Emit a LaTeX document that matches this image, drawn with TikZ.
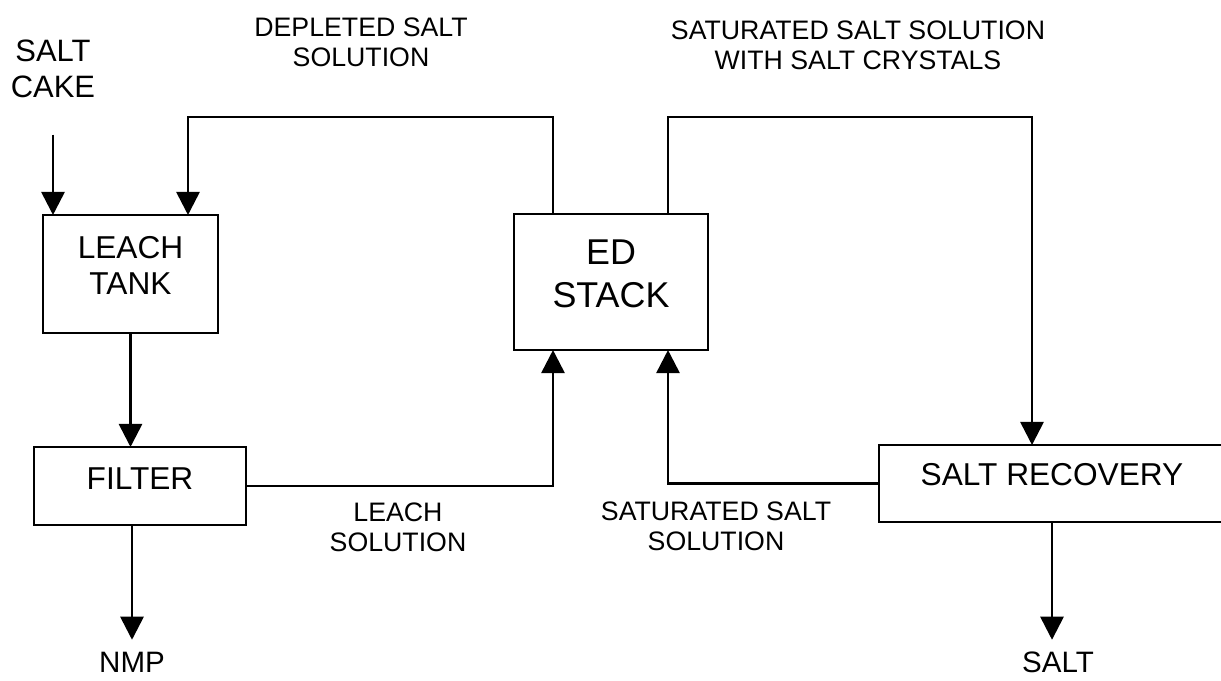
\documentclass[tikz,border=0pt]{standalone}
\usepackage{fontspec}
\setmainfont{Liberation Sans}
\usepackage{tikz}
\usetikzlibrary{calc, arrows.meta, positioning}

\begin{document}
\begin{tikzpicture}[
    x=0.025cm, y=-0.025cm,
    unit/.style={draw, rectangle, line width=1.9pt, inner sep=0pt, outer sep=0pt, align=center,
      font=\fontsize{22.5}{25.6}\selectfont},
    flow/.style={-{Triangle[width=16.5pt,length=16.5pt]}, line width=1.9pt},
    lbl/.style={align=center, inner sep=0pt, font=\fontsize{19}{21.3}\selectfont},
    feed/.style={align=center, inner sep=0pt, font=\fontsize{22}{25.6}\selectfont},
  ]
  \clip (0,0) rectangle (1221,680);

  % Process units
  \node[unit, minimum width=4.375cm, minimum height=2.95cm,
    text height=42pt, text depth=13.1pt] (tank) at (130.5,274) {LEACH\\TANK};
  \node[unit, minimum width=5.3cm, minimum height=1.95cm,
    text height=16pt, text depth=11.4pt] (filter) at (140,486) {FILTER};
  \node[unit, minimum width=4.85cm, minimum height=3.4cm,
    font=\fontsize{25.5}{30.6}\selectfont,
    text height=49pt, text depth=12.2pt] (ed) at (611,282) {ED\\STACK};
  \node[unit, minimum width=8.65cm, minimum height=1.925cm,
    text height=16pt, text depth=12.8pt] (rec) at (1052,483.5) {SALT RECOVERY};

  % Feed and products
  \node[feed, anchor=south, text depth=0pt] (cake) at (53,98) {SALT\\CAKE};
  \node[feed, anchor=north, text height=15pt, text depth=0pt,
    font=\fontsize{21}{25}\selectfont] (nmp) at (132,651) {NMP};
  \node[feed, anchor=north, text height=15pt, text depth=0pt,
    font=\fontsize{21}{25}\selectfont] (salt) at (1058,651) {SALT};

  % Stream labels
  \node[lbl] (depl) at (361,42) {DEPLETED SALT\\SOLUTION};
  \node[lbl] (cryst) at (858,45) {SATURATED SALT SOLUTION\\WITH SALT CRYSTALS};
  \node[lbl] (leach) at (398,527) {LEACH\\SOLUTION};
  \node[lbl] (satd) at (716,526) {SATURATED SALT\\SOLUTION};

  % Streams
  \draw[flow, shorten <=26pt] (cake.south) -- (cake.south |- tank.north);
  \draw[flow] (tank.south) -- (tank.south |- filter.north);
  \draw[flow, shorten >=8pt] (filter.south -| nmp.north) -- (nmp.north);
  \draw[flow] (filter.east) -| ($(ed.south)+(-58,0)$);
  \draw[flow] ($(ed.north)+(-58,0)$) -- ++(0,-97) -| ($(tank.north)+(57.5,0)$);
  \draw[flow] ($(ed.north)+(57,0)$) -- ++(0,-97) -| ($(rec.north)+(-20,0)$);
  \draw[flow] (rec.west) -| ($(ed.south)+(57,0)$);
  \draw[flow, shorten >=8pt] (rec.south) -- (rec.south |- salt.north);
\end{tikzpicture}
\end{document}
